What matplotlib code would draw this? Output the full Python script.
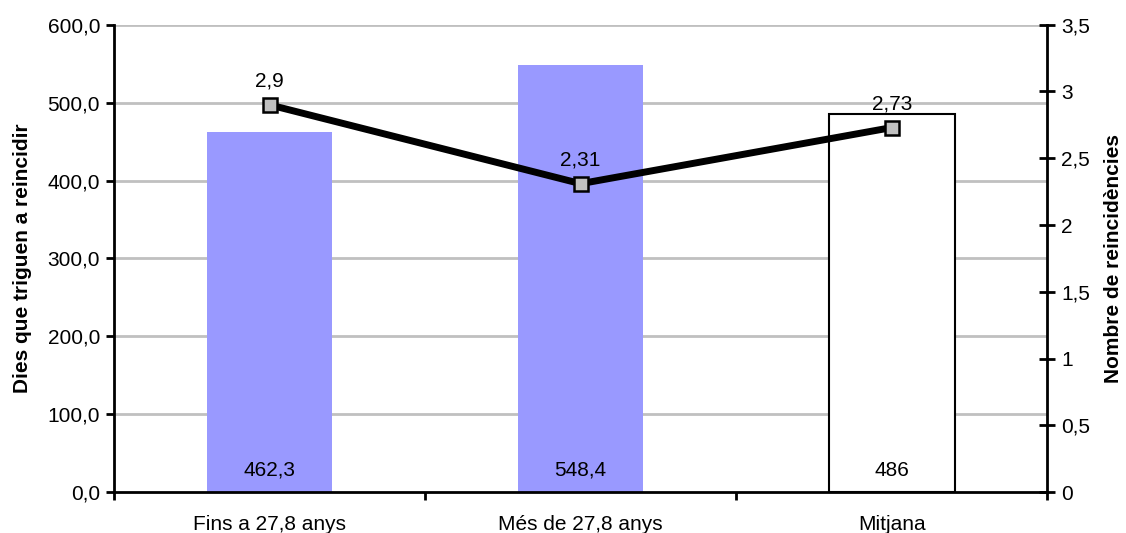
import matplotlib
matplotlib.use("Agg")
import matplotlib.pyplot as plt
import numpy as np

categories = ["Fins a 27,8 anys", "Més de 27,8 anys", "Mitjana"]
dies = [462.3, 548.4, 486]
dies_labels = ["462,3", "548,4", "486"]
reincid = [2.9, 2.31, 2.73]
reincid_labels = ["2,9", "2,31", "2,73"]
left_ticks = [0, 100, 200, 300, 400, 500, 600]
left_ticklabels = ["0,0", "100,0", "200,0", "300,0", "400,0", "500,0", "600,0"]
right_ticks = [0, 0.5, 1, 1.5, 2, 2.5, 3, 3.5]
right_ticklabels = ["0", "0,5", "1", "1,5", "2", "2,5", "3", "3,5"]

plt.rcParams['font.family'] = ['Liberation Sans', 'DejaVu Sans']
FS = 15
LFS = 15

fig = plt.figure(figsize=(11.26, 5.33), dpi=100)
ax = fig.add_axes([0.1012, 0.0764, 0.8290, 0.8773])
x = np.arange(len(categories))

face = ["#9999FF", "#9999FF", "white"]
edge = ["#9999FF", "#9999FF", "black"]
lw = [0, 0, 1.5]
for i in range(len(categories)):
    ax.bar(x[i], dies[i], width=0.403, color=face[i], edgecolor=edge[i], linewidth=lw[i], zorder=2)
    ax.text(x[i], 28, dies_labels[i], ha="center", va="center", fontsize=FS, zorder=5)

ax.set_xlim(-0.5, 2.5)
ax.set_ylim(0, 600)
ax.set_yticks(left_ticks)
ax.set_yticklabels(left_ticklabels, fontsize=FS)
ax.set_xticks(x)
ax.set_xticklabels(categories, fontsize=FS)
ax.set_xticks([-0.5, 0.5, 1.5, 2.5], minor=True)
ax.tick_params(axis="x", which="major", length=0, pad=16)
ax.tick_params(axis="x", which="minor", length=6, width=2, direction="out")
ax.tick_params(axis="y", length=6, width=2, direction="out", pad=4)
for y in left_ticks[1:]:
    ax.axhline(y, color="#C0C0C0", linewidth=2, zorder=0)
ax.spines["top"].set_visible(False)
ax.spines["right"].set_visible(False)
ax.spines["left"].set_linewidth(2)
ax.spines["bottom"].set_linewidth(2)
ax.set_ylabel("Dies que triguen a reincidir", fontsize=LFS, fontweight="bold", labelpad=11)

ax2 = ax.twinx()
ax2.set_ylim(0, 3.5)
ax2.plot(x, reincid, color="black", linewidth=5, zorder=3,
         marker="s", markersize=10, markerfacecolor="#C0C0C0",
         markeredgecolor="black", markeredgewidth=1.8)
for i in range(len(categories)):
    ax2.annotate(reincid_labels[i], (x[i], reincid[i]), xytext=(0, 10),
                 textcoords="offset points", ha="center", va="bottom", fontsize=FS)
ax2.set_yticks(right_ticks)
ax2.set_yticklabels(right_ticklabels, fontsize=FS)
ax2.tick_params(axis="y", length=12, width=2, direction="inout", pad=4)
ax2.spines["top"].set_visible(False)
ax2.spines["left"].set_visible(False)
ax2.spines["bottom"].set_visible(False)
ax2.spines["right"].set_linewidth(2)
ax2.set_ylabel("Nombre de reincidències", fontsize=LFS, fontweight="bold", labelpad=10)

fig.savefig("out.png", dpi=100)
